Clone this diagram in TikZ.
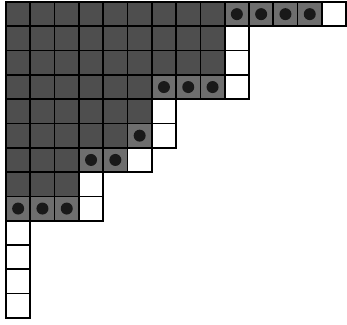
\documentclass[tikz,border=0pt]{standalone}
\definecolor{cellDark}{HTML}{4E4E4E}
\definecolor{cellDot}{HTML}{6E6E6E}
\begin{document}
\begin{tikzpicture}[x=1pt,y=-1pt,
  cellbase/.style={draw=black,line width=1.7pt},
  darkcell/.style={cellbase,fill=cellDark},
  dotcell/.style={cellbase,fill=cellDot},
  whitecell/.style={cellbase,fill=white},
  dotmark/.style={fill=black!90}]
\useasboundingbox[fill=white] (0,0) rectangle (347,324);
\def\cs{24.3}
\newcommand{\cellat}[3]{\path[#3] ({6+\cs*#1},{2+\cs*#2}) rectangle ++(\cs,\cs);}
\newcommand{\dotat}[2]{\cellat{#1}{#2}{dotcell}\fill[dotmark] ({6+\cs*(#1+0.5)},{2+\cs*(#2+0.5)}) circle (6pt);}
% dark cells
\foreach \r in {0,1,2} {\foreach \c in {0,...,8} {\cellat{\c}{\r}{darkcell}}}
\foreach \r in {3,4} {\foreach \c in {0,...,5} {\cellat{\c}{\r}{darkcell}}}
\foreach \c in {0,...,4} {\cellat{\c}{5}{darkcell}}
\foreach \r in {6,7} {\foreach \c in {0,1,2} {\cellat{\c}{\r}{darkcell}}}
% dotted cells
\foreach \c in {9,10,11,12} {\dotat{\c}{0}}
\foreach \c in {6,7,8} {\dotat{\c}{3}}
\dotat{5}{5}
\foreach \c in {3,4} {\dotat{\c}{6}}
\foreach \c in {0,1,2} {\dotat{\c}{8}}
% white cells
\cellat{13}{0}{whitecell}
\foreach \r in {1,2,3} {\cellat{9}{\r}{whitecell}}
\foreach \r in {4,5} {\cellat{6}{\r}{whitecell}}
\cellat{5}{6}{whitecell}
\foreach \r in {7,8} {\cellat{3}{\r}{whitecell}}
\foreach \r in {9,...,12} {\cellat{0}{\r}{whitecell}}
\end{tikzpicture}
\end{document}
